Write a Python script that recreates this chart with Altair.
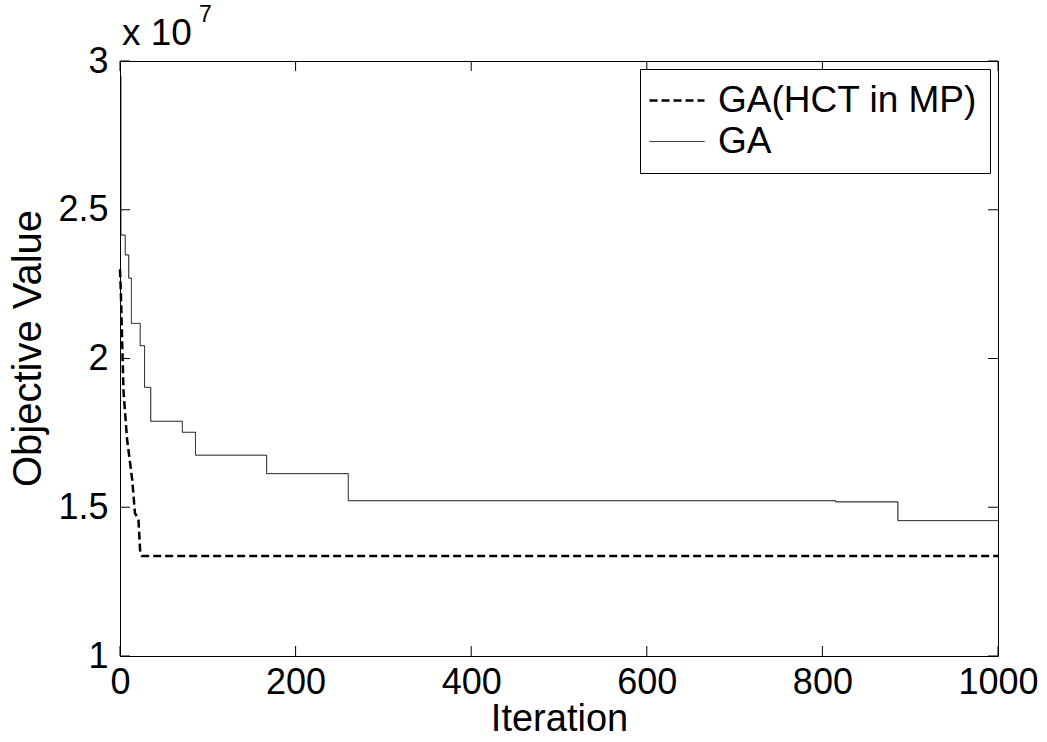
import altair as alt
import pandas as pd

# ---- data (objective values in units of 1e7) ----
ga_iter = [0, 1, 6, 10, 13, 23, 28, 35, 71, 86, 167, 260, 815, 886, 1000]
ga_val = [2.95, 2.415, 2.348, 2.27, 2.118, 2.043, 1.903, 1.789, 1.752, 1.675,
          1.613, 1.522, 1.518, 1.455, 1.455]
hct_iter = [0, 1, 4, 8, 14, 17, 21, 23, 25, 1000]
hct_val = [2.30, 2.22, 1.89, 1.73, 1.59, 1.48, 1.46, 1.35, 1.336, 1.336]
series = ["GA(HCT in MP)", "GA"]
x_ticks = [0, 200, 400, 600, 800, 1000]
y_ticks = [1, 1.5, 2, 2.5, 3]
exp_base = ["x 10"]
exp_power = ["7"]

FONT = "Liberation Sans, Arial, sans-serif"
W, H = 878, 595

df_ga = pd.DataFrame({"iteration": ga_iter, "value": ga_val, "series": "GA"})
df_hct = pd.DataFrame({"iteration": hct_iter, "value": hct_val, "series": "GA(HCT in MP)"})

xs = alt.Scale(domain=[0, 1000], nice=False, zero=False)
ys = alt.Scale(domain=[1, 3], nice=False, zero=False)

x_axis = alt.Axis(values=x_ticks, ticks=False, domain=False, grid=False,
                  format="d", labelFont=FONT, labelFontSize=36, labelColor="black",
                  labelPadding=9, labelFlush=False, title="Iteration",
                  titleFont=FONT, titleFontSize=38, titleFontWeight="normal",
                  titleColor="black", titlePadding=0)
y_axis = alt.Axis(values=y_ticks, ticks=False, domain=False, grid=False,
                  format="~g", labelFont=FONT, labelFontSize=36,
                  labelColor="black", labelPadding=12, labelFlush=False,
                  title="Objective Value", titleFont=FONT, titleFontSize=40,
                  titleFontWeight="normal", titleColor="black", titlePadding=9,
                  titleY=287)

dash = alt.StrokeDash("series:N", sort=series,
                      scale=alt.Scale(domain=series, range=[[8, 4], [1, 0]]),
                      legend=alt.Legend(title=None))
swidth = alt.StrokeWidth("series:N", sort=series,
                         scale=alt.Scale(domain=series, range=[2.5, 1]),
                         legend=alt.Legend(title=None))


def xenc(field):
    return alt.X(field + ":Q", scale=xs, axis=x_axis, title="Iteration")


def yenc(field):
    return alt.Y(field + ":Q", scale=ys, axis=y_axis, title="Objective Value")


ga_line = alt.Chart(df_ga).mark_line(interpolate="step-after", color="black").encode(
    x=xenc("iteration"), y=yenc("value"), strokeDash=dash, strokeWidth=swidth)

hct_line = alt.Chart(df_hct).mark_line(color="black").encode(
    x=xenc("iteration"), y=yenc("value"), strokeDash=dash, strokeWidth=swidth)

xt = pd.DataFrame({"tick": x_ticks})
yt = pd.DataFrame({"tick": y_ticks})
TL = 10
bottom_ticks = alt.Chart(xt).mark_rule(color="black", strokeWidth=1).encode(
    x=xenc("tick"), y=alt.value(H), y2=alt.value(H - TL))
top_ticks = alt.Chart(xt).mark_rule(color="black", strokeWidth=1).encode(
    x=xenc("tick"), y=alt.value(0), y2=alt.value(TL))
left_ticks = alt.Chart(yt).mark_rule(color="black", strokeWidth=1).encode(
    y=yenc("tick"), x=alt.value(0), x2=alt.value(TL))
right_ticks = alt.Chart(yt).mark_rule(color="black", strokeWidth=1).encode(
    y=yenc("tick"), x=alt.value(W), x2=alt.value(W - TL))

exp1 = alt.Chart(pd.DataFrame({"t": exp_base})).mark_text(
    align="left", baseline="alphabetic", font=FONT, fontSize=37, color="black").encode(
    text="t:N", x=alt.value(2), y=alt.value(-16))
exp2 = alt.Chart(pd.DataFrame({"t": exp_power})).mark_text(
    align="left", baseline="alphabetic", font=FONT, fontSize=23, color="black").encode(
    text="t:N", x=alt.value(79), y=alt.value(-39))

chart = alt.layer(
    ga_line, hct_line, bottom_ticks, top_ticks, left_ticks, right_ticks, exp1, exp2
).properties(
    width=W, height=H,
    autosize=alt.AutoSizeParams(type="none"),
    padding={"left": 120, "top": 61, "right": 49, "bottom": 86},
    background="white",
).configure_view(
    stroke="black", strokeWidth=1
).configure_legend(
    orient="top-right", offset=8, padding=13, strokeColor="black",
    fillColor="white", cornerRadius=0, labelFont=FONT, labelFontSize=37,
    labelColor="black", symbolType="M-2,0L3,0", symbolSize=484,
    symbolStrokeColor="black", labelOffset=28, rowPadding=3, labelLimit=0,
)

chart.save("out.html", embed_options={"renderer": "svg", "actions": False})
